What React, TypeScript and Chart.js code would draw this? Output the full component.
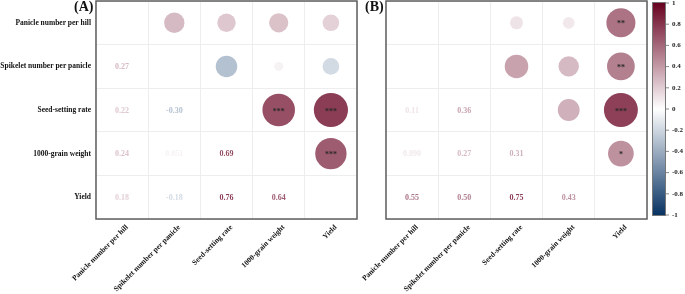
import React, { useEffect, useRef } from 'react';
import { Chart, registerables } from 'chart.js';

Chart.register(...registerables);

// ---------- data ----------
const variables = [
  'Panicle number per hill',
  'Spikelet number per panicle',
  'Seed-setting rate',
  '1000-grain weight',
  'Yield',
];
// lower triangle, row i+1, columns 0..i
const corrA = [[0.27], [0.22, -0.3], [0.24, 0.051, 0.69], [0.18, -0.18, 0.76, 0.64]];
const starsA = [[''], ['', ''], ['', '', '***'], ['', '', '***', '***']];
const corrB = [[0.0], [0.11, 0.36], [0.09, 0.27, 0.31], [0.55, 0.5, 0.75, 0.43]];
const starsB = [[''], ['', ''], ['', '', ''], ['**', '**', '***', '*']];
const colorbarTicks = [1, 0.8, 0.6, 0.4, 0.2, 0, -0.2, -0.4, -0.6, -0.8, -1];

// ---------- style ----------
const SERIF = '"Liberation Serif", "Times New Roman", serif';
const HIGH = [103, 0, 31];
const LOW = [5, 48, 97];
const MID = [255, 255, 255];
const colorFor = (v: number) => {
  const t = Math.min(1, Math.abs(v));
  const c = v >= 0 ? HIGH : LOW;
  const r = MID.map((m, k) => Math.round(m + (c[k] - m) * t));
  return `rgb(${r[0]},${r[1]},${r[2]})`;
};
const fmt = (v: number) => (v === 0 ? '0' : v.toPrecision(2));

function buildPoints(corr: number[][], stars: string[][]) {
  const circles: any[] = [];
  const texts: any[] = [];
  corr.forEach((row, ii) => {
    const i = ii + 1;
    row.forEach((v, j) => {
      circles.push({ x: variables[i], y: variables[j], v, s: stars[ii][j] });
      texts.push({ x: variables[j], y: variables[i], v });
    });
  });
  return { circles, texts };
}

const zeroPad = (s: any) => {
  s.paddingLeft = 0;
  s.paddingRight = 0;
  s.paddingTop = 0;
  s.paddingBottom = 0;
};

function makeConfig(
  corr: number[][],
  stars: string[][],
  panel: string,
  yWidth: number,
  showY: boolean,
  padRight: number,
  panelX: number,
  colorbar: boolean
): any {
  const { circles, texts } = buildPoints(corr, stars);
  const plugin = {
    id: 'corrDecor',
    afterDatasetsDraw(chart: any) {
      const ctx = chart.ctx;
      const ca = chart.chartArea;
      ctx.save();
      // values in lower triangle
      const tMeta = chart.getDatasetMeta(1);
      ctx.font = `bold 8px ${SERIF}`;
      ctx.textAlign = 'center';
      ctx.textBaseline = 'middle';
      tMeta.data.forEach((el: any, k: number) => {
        const v = texts[k].v;
        ctx.fillStyle = colorFor(v);
        ctx.fillText(fmt(v), el.x, el.y + 0.5);
      });
      // stars
      const cMeta = chart.getDatasetMeta(0);
      ctx.font = `bold 8px ${SERIF}`;
      ctx.fillStyle = '#2a2a2a';
      cMeta.data.forEach((el: any, k: number) => {
        const s = circles[k].s;
        if (s) ctx.fillText(s, el.x, el.y + 1.5);
      });
      // box
      ctx.strokeStyle = '#5e5e5e';
      ctx.lineWidth = 1.5;
      ctx.strokeRect(ca.left, ca.top, ca.right - ca.left, ca.bottom - ca.top);
      // panel label
      ctx.font = `bold 14px ${SERIF}`;
      ctx.fillStyle = '#111';
      ctx.textAlign = 'left';
      ctx.textBaseline = 'alphabetic';
      ctx.fillText(panel, panelX, 11);
      // colorbar
      if (colorbar) {
        const x0 = ca.right + 5;
        const w = 14;
        const top = 2;
        const bottom = 216;
        const g = ctx.createLinearGradient(0, top, 0, bottom);
        g.addColorStop(0, colorFor(1));
        g.addColorStop(0.5, colorFor(0));
        g.addColorStop(1, colorFor(-1));
        ctx.fillStyle = g;
        ctx.fillRect(x0, top, w, bottom - top);
        ctx.strokeStyle = '#777';
        ctx.lineWidth = 1;
        ctx.strokeRect(x0 + 0.5, top + 0.5, w - 1, bottom - top - 1);
        ctx.font = `bold 7px ${SERIF}`;
        ctx.fillStyle = '#222';
        ctx.textAlign = 'left';
        ctx.textBaseline = 'middle';
        const t0 = 3;
        const t1 = 215;
        colorbarTicks.forEach((v) => {
          const y = t0 + ((1 - v) / 2) * (t1 - t0);
          ctx.strokeStyle = '#888';
          ctx.beginPath();
          ctx.moveTo(x0 + w, y);
          ctx.lineTo(x0 + w + 3, y);
          ctx.stroke();
          ctx.fillText(String(v), x0 + w + 6, y);
        });
      }
      ctx.restore();
    },
  };
  const gridCfg = { offset: true, color: '#ededed', lineWidth: 1, drawTicks: false };
  return {
    type: 'scatter',
    data: {
      datasets: [
        {
          data: circles,
          pointRadius: (c: any) => 19.6 * Math.sqrt(Math.abs(c.raw ? c.raw.v : 0)),
          pointBackgroundColor: (c: any) => colorFor(c.raw ? c.raw.v : 0),
          pointBorderWidth: 0,
          pointHoverRadius: (c: any) => 19.6 * Math.sqrt(Math.abs(c.raw ? c.raw.v : 0)),
          clip: false,
        },
        { data: texts, pointRadius: 0, pointHoverRadius: 0 },
      ],
    },
    options: {
      animation: false,
      responsive: false,
      events: [],
      layout: { autoPadding: false, padding: { top: 1, right: padRight, left: 0, bottom: 0 } },
      plugins: { legend: { display: false }, tooltip: { enabled: false } },
      scales: {
        x: {
          type: 'category',
          labels: variables,
          offset: true,
          grid: gridCfg,
          border: { display: false },
          ticks: {
            autoSkip: false,
            minRotation: 45,
            maxRotation: 45,
            padding: 4,
            labelOffset: 5,
            color: '#111',
            font: { family: SERIF, size: 7.5, weight: 'bold' },
          },
          afterFit: (s: any) => {
            s.height = 75;
            zeroPad(s);
          },
        },
        y: {
          type: 'category',
          labels: variables,
          offset: true,
          grid: gridCfg,
          border: { display: false },
          ticks: {
            display: showY,
            padding: 5,
            color: '#111',
            font: { family: SERIF, size: 7.5, weight: 'bold' },
          },
          afterFit: (s: any) => {
            s.width = yWidth;
            zeroPad(s);
          },
        },
      },
    },
    plugins: [plugin],
  };
}

export default function App() {
  const refA = useRef<HTMLCanvasElement>(null);
  const refB = useRef<HTMLCanvasElement>(null);
  useEffect(() => {
    const a = new Chart(refA.current!, makeConfig(corrA, starsA, '(A)', 96, true, 1, 74, false));
    const b = new Chart(refB.current!, makeConfig(corrB, starsB, '(B)', 46, false, 38, 25, true));
    return () => {
      a.destroy();
      b.destroy();
    };
  }, []);
  return (
    <div style={{ position: 'fixed', left: 0, top: 0, width: 685, height: 294, background: '#fff' }}>
      <canvas ref={refA} width={358} height={294} style={{ position: 'absolute', left: 0, top: 0 }} />
      <canvas ref={refB} width={345} height={294} style={{ position: 'absolute', left: 340, top: 0 }} />
    </div>
  );
}
